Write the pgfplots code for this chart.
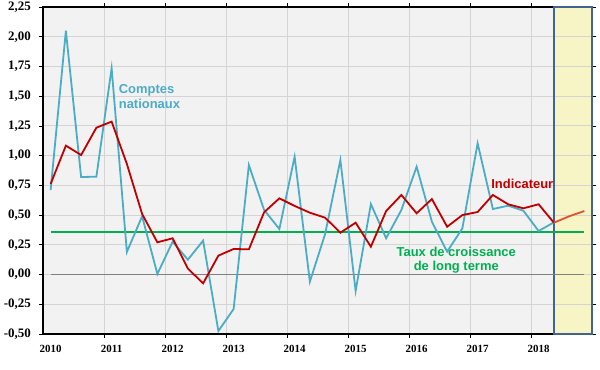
\documentclass[border=0pt]{standalone}
\usepackage{pgfplots}
\pgfplotsset{compat=1.18}
\usepackage{fontspec}
\setmainfont{Liberation Serif}
\newfontfamily\arial{Liberation Sans}
\definecolor{cnblue}{HTML}{4BACC6}
\definecolor{indred}{HTML}{C00000}
\definecolor{ltgreen}{HTML}{00B050}
\definecolor{fcorange}{HTML}{E0522A}
\definecolor{boxyellow}{HTML}{F7F5C5}
\definecolor{boxblue}{HTML}{41658F}
\definecolor{plotbg}{HTML}{F2F2F2}
\definecolor{gridgray}{HTML}{D4D4D4}
\pgfplotsset{
  common/.style={
    at={(43bp,36bp)}, anchor=south west,
    scale only axis, width=549bp, height=327bp,
    xmin=-0.5, xmax=35.5, ymin=-0.5, ymax=2.25,
  }
}
\begin{document}
\begin{tikzpicture}
\useasboundingbox (0,0) rectangle (600bp,370bp);
% background axis: plot area and forecast box fill
\begin{axis}[
  common,
  axis lines=none,
  xtick=\empty, ytick=\empty,
]
\addplot[fill=plotbg, draw=none] coordinates {(-0.5,-0.5) (35.5,-0.5) (35.5,2.25) (-0.5,2.25)} -- cycle;
\addplot[fill=boxyellow, draw=none] coordinates {(33,-0.5) (35.5,-0.5) (35.5,2.25) (33,2.25)} -- cycle;
\end{axis}
% main axis
\begin{axis}[
  common,
  clip=false,
  axis line style={black, line width=2bp},
  tick align=outside,
  major tick length=4bp,
  tick style={black, line width=0.8bp},
  xtick={3.5,7.5,11.5,15.5,19.5,23.5,27.5,31.5},
  xticklabels={},
  extra x ticks={0,4,8,12,16,20,24,28,32},
  extra x tick labels={2010,2011,2012,2013,2014,2015,2016,2017,2018},
  extra x tick style={grid=none, tick style={draw=none}},
  ytick={-0.5,-0.25,0,0.25,0.5,0.75,1,1.25,1.5,1.75,2,2.25},
  xmajorgrids=true, ymajorgrids=true,
  grid style={color=gridgray, line width=0.9bp},
  /pgf/number format/assume math mode=true,
  /pgf/number format/use comma,
  /pgf/number format/fixed,
  /pgf/number format/fixed zerofill,
  /pgf/number format/precision=2,
  /pgf/number format/1000 sep={},
  yticklabel style={font=\bfseries\fontsize{13}{13}\selectfont, inner sep=0pt, xshift=-8bp},
  xticklabel style={font=\bfseries\fontsize{11}{11}\selectfont, inner sep=0pt, yshift=-7bp},
]
% forecast box border
\addplot[draw=boxblue, line width=2bp] coordinates {(33,-0.5) (35.5,-0.5) (35.5,2.25) (33,2.25)} -- cycle;
% zero line
\addplot[color=black!50, line width=1bp] coordinates {(0,0) (35,0)};
% long-term growth rate
\addplot[color=ltgreen, line width=1.8bp] coordinates {(0,0.355) (35,0.355)};
% Comptes nationaux
\addplot[color=cnblue, line width=1.8bp] coordinates {
(0,0.71) (1,2.05) (2,0.82) (3,0.823) (4,1.735) (5,0.19) (6,0.49) (7,0.005)
(8,0.276) (9,0.125) (10,0.285) (11,-0.475) (12,-0.29) (13,0.921) (14,0.543) (15,0.383)
(16,0.991) (17,-0.06) (18,0.341) (19,0.963) (20,-0.138) (21,0.593) (22,0.305) (23,0.543)
(24,0.907) (25,0.445) (26,0.192) (27,0.389) (28,1.104) (29,0.551) (30,0.579) (31,0.537)
(32,0.366) (33,0.439)};
% Indicateur
\addplot[color=indred, line width=1.8bp] coordinates {
(0,0.762) (1,1.084) (2,1.005) (3,1.235) (4,1.286) (5,0.93) (6,0.509) (7,0.271)
(8,0.305) (9,0.05) (10,-0.074) (11,0.159) (12,0.215) (13,0.212) (14,0.524) (15,0.641)
(16,0.577) (17,0.52) (18,0.478) (19,0.352) (20,0.436) (21,0.234) (22,0.534) (23,0.669)
(24,0.515) (25,0.635) (26,0.402) (27,0.50) (28,0.526) (29,0.669) (30,0.591) (31,0.557)
(32,0.591) (33,0.436)};
% forecast
\addplot[color=fcorange, line width=1.8bp] coordinates {(33,0.436) (34,0.49) (35,0.534)};
% annotations
\node[anchor=west, align=left, font=\arial\bfseries\fontsize{13}{15}\selectfont, text=cnblue, inner sep=0pt]
  at (axis cs:4.46,1.50) {Comptes\\nationaux};
\node[align=center, font=\arial\bfseries\fontsize{13}{15}\selectfont, text=indred, inner sep=0pt]
  at (axis cs:30.93,0.76) {Indicateur};
\node[align=center, font=\arial\bfseries\fontsize{13}{15}\selectfont, text=ltgreen, inner sep=0pt]
  at (axis cs:26.6,0.121) {Taux de croissance\\de long terme};
\end{axis}
\end{tikzpicture}
\end{document}
